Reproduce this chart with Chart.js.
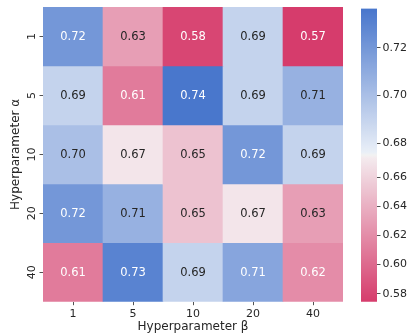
<!DOCTYPE html>
<html><head><meta charset="utf-8">
<script src="https://cdn.jsdelivr.net/npm/chart.js@4.4.1/dist/chart.umd.min.js"></script>
<style>
html,body{margin:0;padding:0;background:#fff;}
#wrap{position:relative;width:410px;height:335px;overflow:hidden;}
canvas{position:absolute;top:0;}
</style>
</head><body>
<div id="wrap">
<canvas id="hm" width="345" height="335" style="left:0;width:345px;height:335px"></canvas>
<canvas id="cb" width="65" height="335" style="left:345px;width:65px;height:335px"></canvas>
</div>
<script>
// ---- data ----
const betaLabels = ['1', '5', '10', '20', '40'];
const alphaLabels = ['1', '5', '10', '20', '40'];
const rowAlpha1  = [0.72, 0.63, 0.58, 0.69, 0.574];
const rowAlpha5  = [0.69, 0.61, 0.736, 0.69, 0.707];
const rowAlpha10 = [0.70, 0.67, 0.65, 0.72, 0.69];
const rowAlpha20 = [0.72, 0.707, 0.65, 0.67, 0.63];
const rowAlpha40 = [0.61, 0.73, 0.69, 0.713, 0.62];
const colorbarTicks = [0.58, 0.60, 0.62, 0.64, 0.66, 0.68, 0.70, 0.72];
const normMin = 0.5745, normCenter = 0.675, normMax = 0.7365;

const rows = [rowAlpha1, rowAlpha5, rowAlpha10, rowAlpha20, rowAlpha40];

// ---- colour map ----
function norm(v) {
  let p = v < normCenter ? 0.5 * (v - normMin) / (normCenter - normMin)
                         : 0.5 + 0.5 * (v - normCenter) / (normMax - normCenter);
  return Math.max(0, Math.min(1, p));
}
const stops = [
  [0.0,   [214, 60, 108]],
  [0.498, [244, 237, 240]],
  [0.5,   [242, 242, 242]],
  [0.502, [236, 241, 248]],
  [1.0,   [72, 118, 204]]
];
function cmapRGB(p) {
  for (let i = 1; i < stops.length; i++) {
    if (p <= stops[i][0]) {
      const [p0, c0] = stops[i - 1], [p1, c1] = stops[i];
      const t = (p - p0) / (p1 - p0);
      return c0.map((c, k) => c + (c1[k] - c) * t);
    }
  }
  return stops[stops.length - 1][1];
}
function cmap(p) {
  const c = cmapRGB(p);
  return 'rgb(' + c.map(x => Math.round(x)).join(',') + ')';
}
function lum(c) {
  const l = c.map(x => { x /= 255; return x <= 0.03928 ? x / 12.92 : Math.pow((x + 0.055) / 1.055, 2.4); });
  return 0.2126 * l[0] + 0.7152 * l[1] + 0.0722 * l[2];
}

const FONT = 'DejaVu Sans';
const INK = '#262626';

const annotate = {
  id: 'annotate',
  afterDatasetsDraw(chart) {
    const ctx = chart.ctx;
    ctx.save();
    ctx.font = '11.5px "' + FONT + '"';
    ctx.textAlign = 'center';
    ctx.textBaseline = 'middle';
    chart.data.datasets.forEach((ds, di) => {
      const meta = chart.getDatasetMeta(di);
      meta.data.forEach((bar, j) => {
        const v = ds.values[j];
        const c = cmapRGB(norm(v));
        const p = bar.getProps(['x', 'y', 'base'], true);
        ctx.fillStyle = lum(c) > 0.408 ? INK : '#ffffff';
        ctx.fillText(v.toFixed(2), p.x, (p.y + p.base) / 2 + 0.5);
      });
    });
    ctx.restore();
  }
};

new Chart(document.getElementById('hm'), {
  type: 'bar',
  data: {
    labels: betaLabels,
    datasets: rows.map((row, i) => ({
      data: row.map(() => [rows.length - 1 - i, rows.length - i]),
      values: row,
      backgroundColor: row.map(v => cmap(norm(v))),
      borderWidth: 0,
      barPercentage: 1,
      categoryPercentage: 1,
      grouped: false
    }))
  },
  options: {
    responsive: false,
    animation: false,
    devicePixelRatio: 1,
    layout: { padding: { top: 3.5, left: 0, right: 2, bottom: 0 } },
    plugins: { legend: { display: false }, tooltip: { enabled: false } },
    scales: {
      x: {
        type: 'category',
        offset: true,
        grid: { display: true, drawOnChartArea: false, drawTicks: true, tickLength: 3.5, offset: false, color: INK, lineWidth: 0.8 },
        border: { display: false },
        ticks: { font: { family: FONT, size: 11 }, color: INK, padding: 2, maxRotation: 0 },
        title: { display: true, text: 'Hyperparameter β', font: { family: FONT, size: 12 }, color: INK, padding: { top: 0, bottom: 1 } },
        afterFit(s) { s.height = 33.3; }
      },
      y: {
        type: 'linear',
        min: 0, max: 5,
        afterBuildTicks(s) { s.ticks = alphaLabels.map((_, i) => ({ value: 4.5 - i })); },
        grid: { display: true, drawOnChartArea: false, drawTicks: true, tickLength: 3.5, color: INK, lineWidth: 0.8 },
        border: { display: false },
        ticks: {
          font: { family: FONT, size: 11 }, color: INK, padding: 0.5,
          minRotation: 90, maxRotation: 90, crossAlign: 'center',
          callback: (v) => alphaLabels[Math.round(4.5 - v)]
        },
        title: { display: true, text: 'Hyperparameter α', font: { family: FONT, size: 12 }, color: INK, padding: { top: 9, bottom: 0 } },
        afterFit(s) { s.width = 43; }
      }
    }
  },
  plugins: [annotate]
});

new Chart(document.getElementById('cb'), {
  type: 'bar',
  data: {
    labels: ['bar'],
    datasets: [{
      data: [[0, 1]],
      borderWidth: 0,
      barPercentage: 1,
      categoryPercentage: 1,
      backgroundColor(ctx) {
        const ca = ctx.chart.chartArea;
        if (!ca) return '#ccc';
        const g = ctx.chart.ctx.createLinearGradient(0, ca.bottom, 0, ca.top);
        for (let k = 0; k <= 100; k++) g.addColorStop(k / 100, cmap(k / 100));
        return g;
      }
    }]
  },
  options: {
    responsive: false,
    animation: false,
    devicePixelRatio: 1,
    layout: { padding: { top: 3.5, left: 16, right: 0, bottom: 33.3 } },
    plugins: { legend: { display: false }, tooltip: { enabled: false } },
    scales: {
      x: { display: false, offset: true },
      y: {
        type: 'linear', position: 'right', min: 0, max: 1,
        afterBuildTicks(s) { s.ticks = colorbarTicks.map(v => ({ value: norm(v) })); },
        grid: { display: true, drawOnChartArea: false, drawTicks: true, tickLength: 3.5, color: INK, lineWidth: 0.8 },
        border: { display: false },
        ticks: {
          font: { family: FONT, size: 11 }, color: INK, padding: 2,
          callback: (v, i) => colorbarTicks[i].toFixed(2)
        },
        afterFit(s) { s.width = 33; }
      }
    }
  }
});
</script>
</body></html>
